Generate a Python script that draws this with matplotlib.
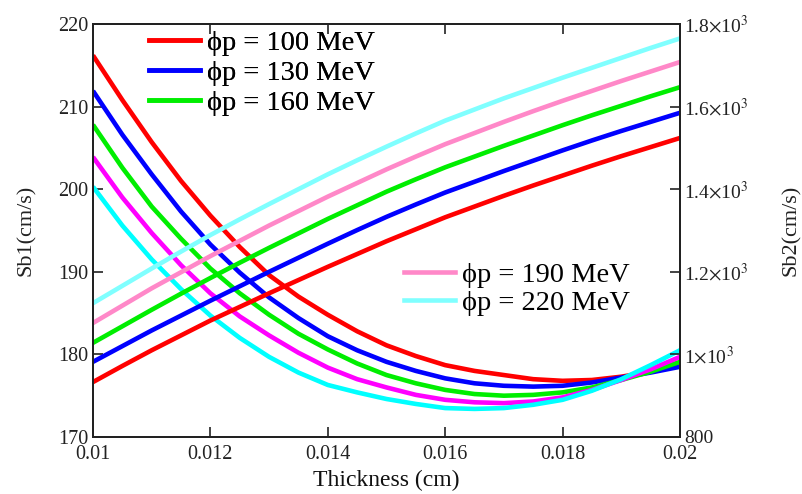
import matplotlib
matplotlib.use("Agg")
import matplotlib.pyplot as plt
from matplotlib.lines import Line2D

plt.rcParams['font.family'] = ['Liberation Serif', 'DejaVu Serif']
plt.rcParams['mathtext.fontset'] = 'stix'

# thickness (cm), read every 0.0005
thickness = [0.0100, 0.0105, 0.0110, 0.0115, 0.0120, 0.0125, 0.0130, 0.0135, 0.0140, 0.0145,
             0.0150, 0.0155, 0.0160, 0.0165, 0.0170, 0.0175, 0.0180, 0.0185, 0.0190, 0.0195,
             0.0200]

energies = ['100', '130', '160', '190', '220']

# Sb1 (cm/s), left axis
sb1 = {
    '100': [216.2, 210.8, 205.7, 201.0, 196.8, 193.0, 189.6, 187.0, 184.8, 182.8,
            181.1, 179.8, 178.7, 178.0, 177.5, 177.0, 176.8, 176.9, 177.3, 177.9, 178.8],
    '130': [211.9, 206.6, 201.8, 197.3, 193.3, 189.9, 186.9, 184.4, 182.2, 180.5,
            179.1, 178.0, 177.1, 176.5, 176.2, 176.1, 176.2, 176.6, 177.2, 177.8, 178.5],
    '160': [207.8, 202.6, 197.9, 194.0, 190.4, 187.4, 184.8, 182.5, 180.6, 178.9,
            177.5, 176.5, 175.7, 175.2, 175.0, 175.1, 175.4, 176.0, 176.9, 177.9, 179.1],
    '190': [203.9, 199.0, 194.7, 190.8, 187.4, 184.6, 182.3, 180.2, 178.4, 177.0,
            176.0, 175.1, 174.5, 174.2, 174.1, 174.3, 174.8, 175.7, 176.9, 178.2, 179.7],
    '220': [200.3, 195.6, 191.5, 187.9, 184.7, 182.0, 179.7, 177.8, 176.3, 175.4,
            174.6, 174.0, 173.5, 173.4, 173.5, 173.9, 174.5, 175.6, 177.0, 178.7, 180.5],
}

# Sb2 (cm/s), right axis
sb2 = {
    '100': [933, 972, 1010, 1046, 1082, 1115, 1148, 1180, 1212, 1243,
            1274, 1303, 1332, 1358, 1384, 1409, 1433, 1457, 1480, 1502, 1524],
    '130': [982, 1020, 1058, 1094, 1130, 1165, 1200, 1234, 1268, 1301,
            1333, 1363, 1392, 1418, 1444, 1469, 1494, 1518, 1541, 1563, 1585],
    '160': [1028, 1068, 1108, 1147, 1185, 1222, 1258, 1293, 1328, 1361,
            1394, 1424, 1453, 1479, 1505, 1530, 1555, 1579, 1602, 1625, 1647],
    '190': [1076, 1118, 1160, 1199, 1238, 1275, 1312, 1347, 1382, 1415,
            1448, 1479, 1509, 1536, 1563, 1589, 1614, 1638, 1662, 1685, 1708],
    '220': [1124, 1166, 1208, 1249, 1289, 1327, 1364, 1400, 1436, 1470,
            1503, 1535, 1566, 1593, 1620, 1645, 1670, 1694, 1718, 1742, 1765],
}

col_sb1 = {'100': '#ff0000', '130': '#0000ff', '160': '#00ee00', '190': '#ff00ff', '220': '#00ffff'}
col_sb2 = {'100': '#ff0000', '130': '#0000ff', '160': '#00ee00', '190': '#ff88c8', '220': '#80ffff'}

fig = plt.figure(figsize=(8.03, 4.94), dpi=100)
ax = fig.add_axes([0.1158, 0.1154, 0.731, 0.836])
ax2 = ax.twinx()

lw = 3.3
for e in energies:
    ax.plot(thickness, sb1[e], color=col_sb1[e], lw=lw, solid_capstyle='butt')
for e in energies:
    ax2.plot(thickness, sb2[e], color=col_sb2[e], lw=lw, solid_capstyle='butt')

ax.set_xlim(0.01, 0.02)
ax.set_ylim(170, 220)
ax2.set_ylim(800, 1800)

ax.set_xticks([0.01, 0.012, 0.014, 0.016, 0.018, 0.02])
ax.set_xticklabels(['0.01', '0.012', '0.014', '0.016', '0.018', '0.02'])
ax.set_yticks([170, 180, 190, 200, 210, 220])
ax2.set_yticks([800, 1000, 1200, 1400, 1600, 1800])
ax2.set_yticklabels(['800', r'1$\times$10$^3$', r'1.2$\times$10$^3$', r'1.4$\times$10$^3$',
                     r'1.6$\times$10$^3$', r'1.8$\times$10$^3$'])

ax.tick_params(axis='both', direction='in', length=7, width=1.2, labelsize=14.5,
               top=True, color='#222222', labelcolor='#222222')
ax.tick_params(axis='x', pad=6)
ax2.tick_params(axis='y', direction='in', length=7, width=1.2, labelsize=14,
                color='#222222', labelcolor='#222222', pad=3)
for a in (ax, ax2):
    for s in a.spines.values():
        s.set_linewidth(1.4)
        s.set_color('#222222')

ax.set_xlabel('Thickness (cm)', fontsize=17, labelpad=4, color='#111111')
ax.set_ylabel('Sb1(cm/s)', fontsize=16, labelpad=16, color='#222222')
ax2.set_ylabel('Sb2(cm/s)', fontsize=16, labelpad=24, color='#222222')


def handle(c):
    return Line2D([], [], color=c, lw=lw)


leg1 = ax.legend([handle(col_sb2[e]) for e in energies[:3]],
                 ['\u03d5p = %s MeV' % e for e in energies[:3]],
                 loc='upper left', bbox_to_anchor=(0.095, 0.986), frameon=False,
                 fontsize=20.5, handlelength=1.8, handletextpad=0.25, labelspacing=0.15,
                 borderaxespad=0, borderpad=0)
ax.add_artist(leg1)
ax2.legend([handle(col_sb2[e]) for e in energies[3:]],
           ['\u03d5p = %s MeV' % e for e in energies[3:]],
           loc='upper left', bbox_to_anchor=(0.53, 0.423), frameon=False,
           fontsize=20.5, handlelength=1.8, handletextpad=0.25, labelspacing=0.05,
           borderaxespad=0, borderpad=0)

fig.savefig('out.png', dpi=100)
